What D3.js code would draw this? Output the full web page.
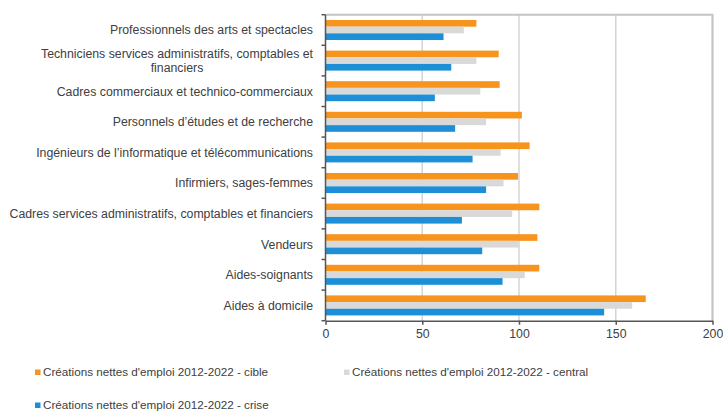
<!DOCTYPE html>
<html lang="fr">
<head>
    <meta charset="utf-8">
    <title>Créations nettes d'emploi 2012-2022</title>
    <script src="https://d3js.org/d3.v7.min.js"></script>
    <style>
        body { margin: 0; background: #fff; }
        text { font-family: "Liberation Sans", Arial, sans-serif; fill: #404040; }
    </style>
</head>
<body>
<script>
    // Data
    const categories = [
        "Professionnels des arts et spectacles",
        "Techniciens services administratifs, comptables et financiers",
        "Cadres commerciaux et technico-commerciaux",
        "Personnels d\u2019études et de recherche",
        "Ingénieurs de l\u2019informatique et télécommunications",
        "Infirmiers, sages-femmes",
        "Cadres services administratifs, comptables et financiers",
        "Vendeurs",
        "Aides-soignants",
        "Aides à domicile"
    ];
    const seriesNames = [
        "Créations nettes d'emploi 2012-2022 - cible",
        "Créations nettes d'emploi 2012-2022 - central",
        "Créations nettes d'emploi 2012-2022 - crise"
    ];
    const cible   = [78, 89.5, 90, 101.5, 105.5, 99.5, 110.5, 109.5, 110.5, 165.5];
    const central = [71.5, 78, 80, 83, 90.5, 92, 96.5, 100, 103, 158.5];
    const crise   = [61, 65, 56.5, 67, 76, 83, 70.5, 81, 91.5, 144];
    const xTicks  = [0, 50, 100, 150, 200];

    const colors = ["#f7941d", "#d9d9d9", "#1d8fd7"];

    // Dimensions
    const width  = 723;
    const height = 413;
    const mLeft = 325.5, mRight = 712.5, mTop = 14.7, mBottom = 320.7;

    const svg = d3.select("body")
        .append("svg")
        .attr("width", width)
        .attr("height", height);

    // Scales
    const x = d3.scaleLinear()
        .domain([0, 200])
        .range([mLeft, mRight]);

    const y = d3.scaleBand()
        .domain(categories)
        .range([mTop, mBottom])
        .paddingInner(0.346)
        .paddingOuter(0.173);

    const ySub = d3.scaleBand()
        .domain([0, 1, 2])
        .range([0, y.bandwidth()]);

    // Gridlines
    svg.append("g")
        .selectAll("line")
        .data(xTicks.slice(1))
        .join("line")
        .attr("x1", d => x(d))
        .attr("x2", d => x(d))
        .attr("y1", mTop)
        .attr("y2", mBottom)
        .attr("stroke", "#d4d4d4")
        .attr("stroke-width", 1.5);

    // Plot border (top / right)
    svg.append("path")
        .attr("d", `M${mLeft},${mTop}H${mRight}V${mBottom}`)
        .attr("fill", "none")
        .attr("stroke", "#c4c4c4")
        .attr("stroke-width", 2);

    // Bars
    const rows = categories.map((c, i) => ({ cat: c, vals: [cible[i], central[i], crise[i]] }));

    const groups = svg.append("g")
        .selectAll("g")
        .data(rows)
        .join("g")
        .attr("transform", d => `translate(0,${y(d.cat)})`);

    groups.selectAll("rect")
        .data(d => d.vals)
        .join("rect")
        .attr("x", x(0))
        .attr("y", (d, i) => ySub(i))
        .attr("width", d => x(d) - x(0))
        .attr("height", ySub.bandwidth())
        .attr("fill", (d, i) => colors[i]);

    // Bottom axis
    const xAxis = svg.append("g")
        .attr("transform", `translate(0,${mBottom})`)
        .call(d3.axisBottom(x).tickValues(xTicks).tickSize(4).tickSizeOuter(0));
    xAxis.select(".domain").attr("stroke", "#555").attr("stroke-width", 1.5);
    xAxis.selectAll(".tick line").attr("stroke", "#555").attr("stroke-width", 1.5);
    xAxis.selectAll(".tick text")
        .attr("font-size", 12.3)
        .attr("dy", "0.71em")
        .attr("y", 9)
        .style("fill", "#404040");

    // Left axis (ticks between categories)
    const yEdges = d3.range(categories.length + 1).map(i => mTop + i * (mBottom - mTop) / categories.length);
    svg.append("line")
        .attr("x1", mLeft).attr("x2", mLeft)
        .attr("y1", mTop).attr("y2", mBottom)
        .attr("stroke", "#555")
        .attr("stroke-width", 1.5);
    svg.append("g")
        .selectAll("line")
        .data(yEdges)
        .join("line")
        .attr("x1", mLeft - 4).attr("x2", mLeft)
        .attr("y1", d => d).attr("y2", d => d)
        .attr("stroke", "#555")
        .attr("stroke-width", 1.5);

    // Category labels (the long one wraps on two lines, centred)
    const labelX = 313;
    const labelSize = 12.3;
    const labels = svg.append("g")
        .selectAll("g")
        .data(categories)
        .join("g")
        .attr("transform", d => `translate(0,${y(d) + y.bandwidth() / 2})`);

    labels.each(function (d) {
        const g = d3.select(this);
        if (d.startsWith("Techniciens")) {
            const l1 = g.append("text")
                .attr("x", labelX)
                .attr("y", -6.7)
                .attr("dy", "0.35em")
                .attr("text-anchor", "end")
                .attr("font-size", labelSize)
                .text("Techniciens services administratifs, comptables et");
            const w = l1.node().getComputedTextLength();
            g.append("text")
                .attr("x", labelX - w / 2)
                .attr("y", 6.7)
                .attr("dy", "0.35em")
                .attr("text-anchor", "middle")
                .attr("font-size", labelSize)
                .text("financiers");
        } else {
            g.append("text")
                .attr("x", labelX)
                .attr("dy", "0.35em")
                .attr("text-anchor", "end")
                .attr("font-size", labelSize)
                .text(d);
        }
    });

    // Legend
    const legendPos = [[35, 372], [344, 372], [35, 405]];
    const legend = svg.append("g")
        .selectAll("g")
        .data(seriesNames)
        .join("g")
        .attr("transform", (d, i) => `translate(${legendPos[i][0]},${legendPos[i][1]})`);

    legend.append("rect")
        .attr("x", 0)
        .attr("y", -2.5)
        .attr("width", 5.5)
        .attr("height", 5.5)
        .attr("fill", (d, i) => colors[i]);

    legend.append("text")
        .attr("x", 8)
        .attr("dy", "0.35em")
        .attr("font-size", 11.7)
        .text(d => d);
</script>
</body>
</html>
